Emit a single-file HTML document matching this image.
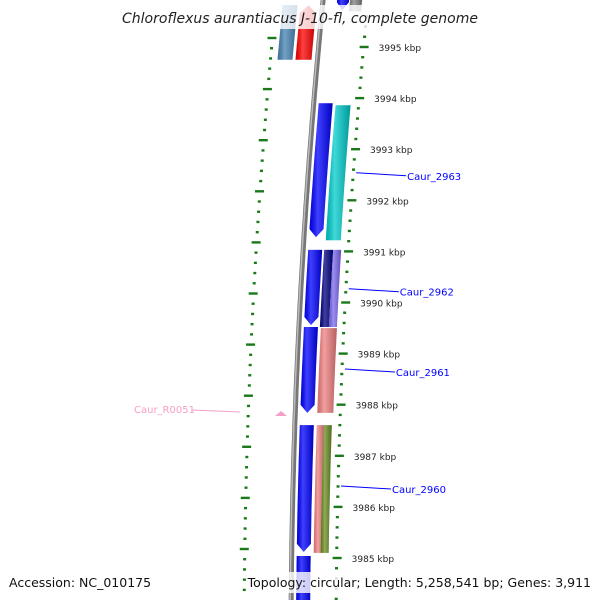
<!DOCTYPE html>
<html><head><meta charset="utf-8"><style>
body{margin:0;background:#fff;}
svg{display:block;font-family:"DejaVu Sans","Liberation Sans",sans-serif;}
</style></head><body>
<svg id="map" width="600" height="600" viewBox="0 0 600 600" xmlns="http://www.w3.org/2000/svg">
<defs>
<linearGradient id="shade" x1="0" x2="1" y1="0" y2="0">
<stop offset="0" stop-color="#000" stop-opacity="0.15"/>
<stop offset="0.35" stop-color="#fff" stop-opacity="0.25"/>
<stop offset="1" stop-color="#000" stop-opacity="0.25"/>
</linearGradient>
</defs>
<g id="ticks"></g>
<g id="genes"></g>
<g id="labels"></g>
</svg>
<script>
const tickKbp = [3985,3986,3987,3988,3989,3990,3991,3992,3993,3994,3995];
const tickLabels = ["3985 kbp","3986 kbp","3987 kbp","3988 kbp","3989 kbp","3990 kbp","3991 kbp","3992 kbp","3993 kbp","3994 kbp","3995 kbp"];
const geneNames = ["gene-top-steelblue","gene-top-red","gene-top-blue","gene-top-gray","gene-2963-blue","gene-2963-cyan","gene-2962-blue","gene-2962-navy","gene-2962-slate","gene-2961-blue","gene-2961-salmon","gene-2960-blue","gene-2960-salmon","gene-2960-olive","gene-bottom-blue"];
const geneStart = [3995.82,3995.82,3996.0,3996.0,3993.90,3993.86,3991.03,3991.03,3991.03,3989.52,3989.50,3987.60,3987.60,3987.60,3985.04];
const geneEnd   = [3994.75,3994.75,3995.72,3995.70,3991.28,3991.22,3989.56,3989.52,3989.52,3987.84,3987.84,3985.12,3985.10,3985.10,3983.90];
const geneLane  = [-40,-22,14,27,5,22,5,21,30,5,22,5,22,29,5];
const geneWidth = [15,16,12,12,14,15,14,9,8,14,16,14,8,8,14];
const geneDir   = [0,1,-1,0,-1,0,-1,0,0,-1,0,-1,0,0,-1];
const geneColor = ["#4682b4","#ff0000","#0000ff","#808080","#0000ff","#00cccc","#0000ff","#000080","#7b68ee","#0000ff","#f08080","#0000ff","#f08080","#6b8e23","#0000ff"];
const calloutText = ["Caur_2963","Caur_2962","Caur_2961","Caur_2960"];
const calloutKbp = [3992.5,3990.23,3988.66,3986.37];

const NS="http://www.w3.org/2000/svg";
function yOf(k){return 47+(3995-k)*51.1;}
function bx(y){return 291+7.6e-5*(y-650)*(y-650);}
function mk(tag,attrs,parent){const e=document.createElementNS(NS,tag);for(const a in attrs)e.setAttribute(a,attrs[a]);parent.appendChild(e);return e;}
const tg=document.getElementById('ticks'),gg=document.getElementById('genes'),lg=document.getElementById('labels');

// backbone
let d="";for(let y=-5;y<=605;y+=5){d+=(y===-5?"M":"L")+bx(y).toFixed(1)+","+y;}
const bb=mk('path',{d:d,stroke:"#777",'stroke-width':5,fill:"none"},tg);


const bb2=mk('path',{d:d,stroke:"#bbb",'stroke-width':1.5,fill:"none",transform:"translate(-1,0)"},tg);



// minor/major ticks
for(let i=-5;i<=60;i++){
  const k=3995.8-i*0.2;const y=yOf(k);
  if(y<8||y>605)continue;
  const major=Math.abs(k-Math.round(k))<0.01;
  const rx=bx(y)+45;
  const t=mk('rect',{x:major?rx-4:rx-1.5,y:y-1.2,width:major?9:3,height:2.4,fill:"#1a7a1a"},tg);
  
  
  const y2=y-9;if(y2<30)continue;
  const lx=bx(y2)-47;
  const t2=mk('rect',{x:major?lx-5:lx-1.5,y:y2-1.2,width:major?9:3,height:2.4,fill:"#1a7a1a"},tg);
  
  
}
tickKbp.forEach((k,i)=>{const y=yOf(k);
  const t=mk('text',{x:bx(y)+60,y:y+4,'font-size':9,fill:"#222"},lg);t.textContent=tickLabels[i];
  
  
});

// genes
geneNames.forEach((n,i)=>{
  const y1=yOf(geneStart[i]),y2=yOf(geneEnd[i]);const off=geneLane[i],w=geneWidth[i];const tip=8;
  const dir=geneDir[i];
  let ya=y1,yb=y2;if(dir===-1)yb=y2-tip;if(dir===1)ya=y1+tip;
  let p=[];
  if(dir===1)p.push([bx(y1)+off+w/2,y1]);
  for(let s=0;s<=10;s++){const y=ya+(yb-ya)*s/10;p.push([bx(y)+off,y]);}
  if(dir===-1)p.push([bx(y2)+off+w/2,y2]);
  for(let s=10;s>=0;s--){const y=ya+(yb-ya)*s/10;p.push([bx(y)+off+w,y]);}
  const pts=p.map(q=>q[0].toFixed(1)+","+q[1].toFixed(1)).join(" ");
  const g=mk('polygon',{points:pts,fill:geneColor[i]},gg);
  
  
  const s=mk('polygon',{points:pts,fill:"url(#shade)"},gg);
  
  
});

// tRNA triangle
const tri=mk('polygon',{points:"275,416 287,416 281,411",fill:"#f59fc6"},gg);



// callouts
calloutText.forEach((t,i)=>{const y=yOf(calloutKbp[i]);const x0=bx(y)+48;
  const l=mk('line',{x1:x0,y1:y-2,x2:x0+50,y2:y+1,stroke:"#0000ff",'stroke-width':1},lg);
  
  
  const tx=mk('text',{x:x0+51,y:y+5,'font-size':10,fill:"#0000ff"},lg);tx.textContent=t;
  
  
});
const pl=mk('line',{x1:192,y1:410,x2:240,y2:412,stroke:"#f59fc6",'stroke-width':1},lg);


const pt=mk('text',{x:134,y:413,'font-size':10,fill:"#f59fc6"},lg);pt.textContent="Caur_R0051";



// title & footer
const tb=mk('rect',{x:118,y:5,width:364,height:24,fill:"#fff",'fill-opacity':0.8},lg);


const tt=mk('text',{x:300,y:23,'font-size':14,'font-style':'italic','text-anchor':'middle',fill:"#222"},lg);tt.textContent="Chloroflexus aurantiacus J-10-fl, complete genome";


const fb=mk('rect',{x:258,y:572,width:338,height:21,fill:"#fff",'fill-opacity':0.8},lg);


const a=mk('text',{x:9,y:587,'font-size':12.5,fill:"#111"},lg);a.textContent="Accession: NC_010175";


const tp=mk('text',{x:591,y:587,'font-size':12.5,'text-anchor':'end',fill:"#111"},lg);tp.textContent="Topology: circular; Length: 5,258,541 bp; Genes: 3,911";


</script>
</body></html>
